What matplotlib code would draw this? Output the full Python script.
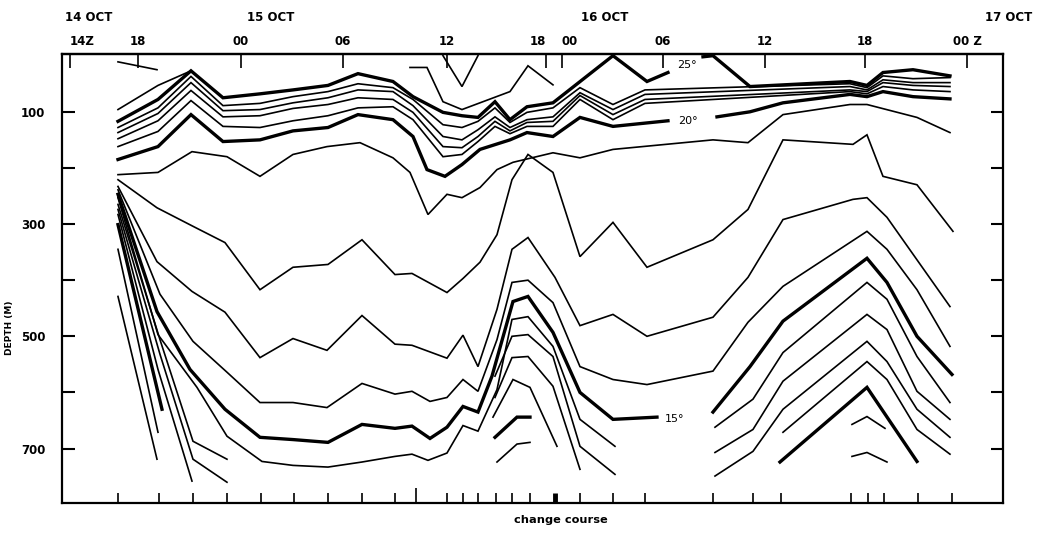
import matplotlib.pyplot as plt

# ---- axes annotation data ----
stations = [56, 97, 131, 165, 199, 232, 266, 300, 333, 354, 385, 401, 416, 434,
            450, 468, 493, 518, 551, 583, 651, 691, 719, 789, 806, 822, 856, 890]
time_pos = [8, 76, 179, 281, 385, 484, 500, 601, 703, 803, 905]
time_labels = ["14Z", "18", "00", "06", "12", "18", "00", "06", "12", "18", "00 Z"]
date_labels = ["14 OCT", "15 OCT", "16 OCT", "17 OCT"]
depth_ticks = [100, 200, 300, 400, 500, 600, 700]
depth_labels = ["100", "", "300", "", "500", "", "700"]

# ---- isotherms: track distance (x) and depth in m ----
band_x = [56, 96, 129, 161, 198, 231, 266, 296, 331, 351, 381, 400, 416, 433, 448,
          465, 491, 518, 551, 583, 788, 805, 821, 851, 888]
t24_d = [128, 93, 37, 89, 85, 73, 64, 50, 57, 78, 123, 128, 117, 93, 119, 101, 93,
         57, 87, 61, 50, 57, 36, 41, 39]
t23_d = [137, 103, 48, 98, 96, 84, 75, 61, 64, 89, 144, 150, 132, 109, 128, 114, 109,
         66, 96, 69, 55, 61, 43, 48, 48]
t22_d = [148, 116, 62, 109, 107, 94, 87, 75, 78, 101, 162, 164, 144, 117, 134, 119, 117,
         71, 105, 78, 61, 64, 48, 53, 55]
t21_d = [162, 135, 80, 126, 128, 116, 107, 93, 91, 114, 180, 176, 153, 126, 139, 126, 126,
         78, 114, 85, 64, 68, 55, 61, 64]

t26_x = [348, 365, 381, 400, 448, 466, 491]
t26_d = [21, 21, 82, 96, 64, 18, 52]
notch_x = [381, 400, 416]
notch_d = [0, 55, 0]
stub_x = [56, 95]
stub_d = [11, 25]
t0_x = [56, 96, 129]
t0_d = [96, 53, 27]

t25a_x = [56, 96, 129, 161, 198, 231, 266, 296, 331, 351, 381, 400, 416, 433, 448, 465,
          491, 551, 585, 606]
t25a_d = [117, 78, 27, 75, 68, 61, 53, 32, 46, 73, 101, 107, 110, 82, 114, 91, 84, 0, 46, 30]
t25b_x = [641, 651, 688, 788, 805, 821, 851, 888]
t25b_d = [2, 0, 55, 46, 53, 30, 25, 36]

t20a_x = [56, 96, 129, 161, 198, 231, 266, 296, 331, 351, 365, 383, 400, 418, 448, 465,
          491, 518, 551, 606]
t20a_d = [185, 162, 105, 153, 150, 134, 128, 105, 114, 144, 203, 215, 194, 167, 150, 137,
          144, 110, 126, 116]
t20b_x = [655, 688, 721, 788, 805, 821, 851, 888]
t20b_d = [109, 100, 84, 69, 73, 64, 73, 77]

t19_x = [56, 96, 130, 165, 198, 231, 265, 298, 331, 348, 366, 385, 400, 418, 435, 451,
         491, 518, 551, 651, 686, 721, 788, 805, 855, 888]
t19_d = [212, 208, 171, 180, 215, 176, 162, 155, 182, 208, 283, 247, 253, 235, 203, 190,
         173, 182, 167, 150, 155, 105, 87, 87, 110, 137]

t18_x = [56, 95, 131, 163, 198, 231, 266, 300, 333, 350, 385, 401, 418, 435, 450, 466,
         491, 518, 551, 585, 651, 686, 721, 791, 805, 821, 855, 891]
t18_d = [221, 271, 304, 333, 417, 377, 372, 328, 390, 388, 422, 397, 368, 319, 221, 176,
         208, 358, 297, 377, 328, 274, 150, 158, 141, 215, 230, 313]

t17_x = [56, 95, 130, 163, 198, 231, 265, 300, 333, 350, 385, 401, 416, 435, 450, 466,
         493, 518, 551, 585, 651, 686, 721, 791, 805, 825, 888]
t17_d = [233, 367, 420, 457, 538, 504, 525, 463, 514, 516, 539, 498, 554, 452, 345, 324,
         395, 481, 461, 500, 466, 395, 292, 256, 253, 288, 447]

t16_x = [56, 98, 131, 165, 198, 231, 265, 300, 333, 350, 368, 385, 401, 416, 435, 450,
         466, 491, 518, 551, 585, 651, 686, 721, 805, 825, 855, 888]
t16_d = [239, 425, 509, 564, 618, 618, 627, 584, 603, 598, 616, 609, 577, 598, 506, 404,
         400, 440, 554, 577, 586, 562, 475, 411, 313, 345, 417, 518]

t15a_x = [56, 95, 128, 163, 198, 231, 266, 300, 333, 350, 368, 385, 401, 416, 430, 451,
          466, 491, 518, 551, 595]
t15a_d = [247, 456, 559, 630, 680, 684, 689, 657, 664, 660, 682, 662, 625, 635, 571, 438,
          429, 493, 600, 648, 644]
t15b_x = [651, 688, 721, 805, 825, 855, 890]
t15b_d = [635, 554, 473, 361, 404, 500, 568]

t14a_x = [56, 96, 135, 165, 200, 231, 266, 300, 333, 350, 366, 385, 401, 416, 435, 450,
          466, 491, 518, 553]
t14a_d = [253, 497, 591, 678, 723, 730, 733, 724, 714, 710, 721, 708, 659, 669, 595, 470,
          465, 518, 648, 696]
t14b_x = [653, 691, 721, 805, 825, 855, 888]
t14b_d = [662, 612, 529, 404, 434, 536, 618]

t13a_x, t13a_d = [56, 98, 131, 165], [265, 506, 687, 719]
t13b_x, t13b_d = [433, 450, 466, 491, 518, 553], [571, 500, 497, 536, 696, 746]
t13c_x, t13c_d = [653, 691, 721, 805, 825, 855, 888], [707, 666, 580, 461, 488, 598, 648]

t12a_x, t12a_d = [56, 98, 131, 165], [274, 532, 719, 760]
t12b_x, t12b_d = [433, 450, 466, 491, 518], [609, 538, 536, 589, 737]
t12c_x, t12c_d = [653, 691, 721, 805, 825, 855, 888], [749, 705, 630, 509, 545, 630, 680]

t11a_x, t11a_d = [56, 96, 130], [283, 559, 758]
t11b_x, t11b_d = [431, 451, 468, 495], [644, 577, 591, 696]
t11c_x, t11c_d = [721, 805, 825, 855, 888], [671, 545, 577, 666, 710]

t10a_x, t10a_d = [56, 100], [301, 630]
t10b_x, t10b_d = [433, 455, 468], [680, 644, 644]
t10c_x, t10c_d = [718, 805, 855], [724, 591, 723]

t9a_x, t9a_d = [56, 96], [345, 671]
t9b_x, t9b_d = [435, 455, 468], [724, 692, 689]
t9c_x, t9c_d = [790, 805, 823], [657, 643, 664]

t8a_x, t8a_d = [56, 95], [429, 719]
t8c_x, t8c_d = [790, 805, 825], [714, 707, 724]

thin = [
    (stub_x, stub_d), (t0_x, t0_d), (t26_x, t26_d), (notch_x, notch_d),
    (band_x, t24_d), (band_x, t23_d), (band_x, t22_d), (band_x, t21_d),
    (t19_x, t19_d), (t18_x, t18_d), (t17_x, t17_d), (t16_x, t16_d),
    (t14a_x, t14a_d), (t14b_x, t14b_d),
    (t13a_x, t13a_d), (t13b_x, t13b_d), (t13c_x, t13c_d),
    (t12a_x, t12a_d), (t12b_x, t12b_d), (t12c_x, t12c_d),
    (t11a_x, t11a_d), (t11b_x, t11b_d), (t11c_x, t11c_d),
    (t9a_x, t9a_d), (t9b_x, t9b_d), (t9c_x, t9c_d),
    (t8a_x, t8a_d), (t8c_x, t8c_d),
]
thick = [
    (t25a_x, t25a_d), (t25b_x, t25b_d), (t20a_x, t20a_d), (t20b_x, t20b_d),
    (t15a_x, t15a_d), (t15b_x, t15b_d),
    (t10a_x, t10a_d), (t10b_x, t10b_d), (t10c_x, t10c_d),
]

bold = dict(fontsize=8.5, fontweight="bold", family="DejaVu Sans")

fig = plt.figure(figsize=(10.4, 5.33), dpi=100)
ax = fig.add_axes([0.0596, 0.0563, 0.9048, 0.8424])

for x, d in thin:
    ax.plot(x, d, color="black", lw=1.2, solid_joinstyle="miter")
for x, d in thick:
    ax.plot(x, d, color="black", lw=2.4, solid_joinstyle="miter")

ax.text(625, 16, "25°", fontsize=8, ha="center", va="center")
ax.text(626, 116, "20°", fontsize=8, ha="center", va="center")
ax.text(613, 648, "15°", fontsize=8, ha="center", va="center")

ax.set_xlim(0, 941)
ax.set_ylim(797, -3)

# depth axis
ax.set_yticks(depth_ticks)
ax.set_yticklabels(depth_labels, **bold)
ax.tick_params(axis="y", direction="in", length=9, width=1.5, pad=12,
               left=True, right=True)

# station ticks along the bottom
ax.set_xticks(stations)
ax.set_xticklabels([])
ax.tick_params(axis="x", direction="in", length=7, width=1.2)
for t in ax.xaxis.get_major_ticks():
    if t.get_loc() == 354:
        t.tick1line.set_markersize(11)
    if t.get_loc() == 493:
        t.tick1line.set_markeredgewidth(3.5)

# time axis on top
top = ax.secondary_xaxis("top")
top.set_xticks(time_pos)
top.set_xticklabels(time_labels, **bold)
top.tick_params(direction="in", length=10, width=1.2, pad=4)
labs = top.get_xticklabels()
labs[0].set_ha("left")
labs[5].set_ha("right")
labs[6].set_ha("left")
top.spines["top"].set_linewidth(1.6)

for s in ax.spines.values():
    s.set_linewidth(1.6)

fig.text(0.0625, 0.968, date_labels[0], ha="left", va="center", **bold)
fig.text(0.2606, 0.968, date_labels[1], ha="center", va="center", **bold)
fig.text(0.5817, 0.968, date_labels[2], ha="center", va="center", **bold)
fig.text(0.970, 0.968, date_labels[3], ha="center", va="center", **bold)
fig.text(0.009, 0.385, "DEPTH (M)", rotation=90, ha="center", va="center",
         fontsize=6.5, fontweight="bold")
fig.text(0.539, 0.024, "change course", ha="center", va="center",
         fontsize=8.2, fontweight="bold")

fig.savefig("out.png", dpi=100)
